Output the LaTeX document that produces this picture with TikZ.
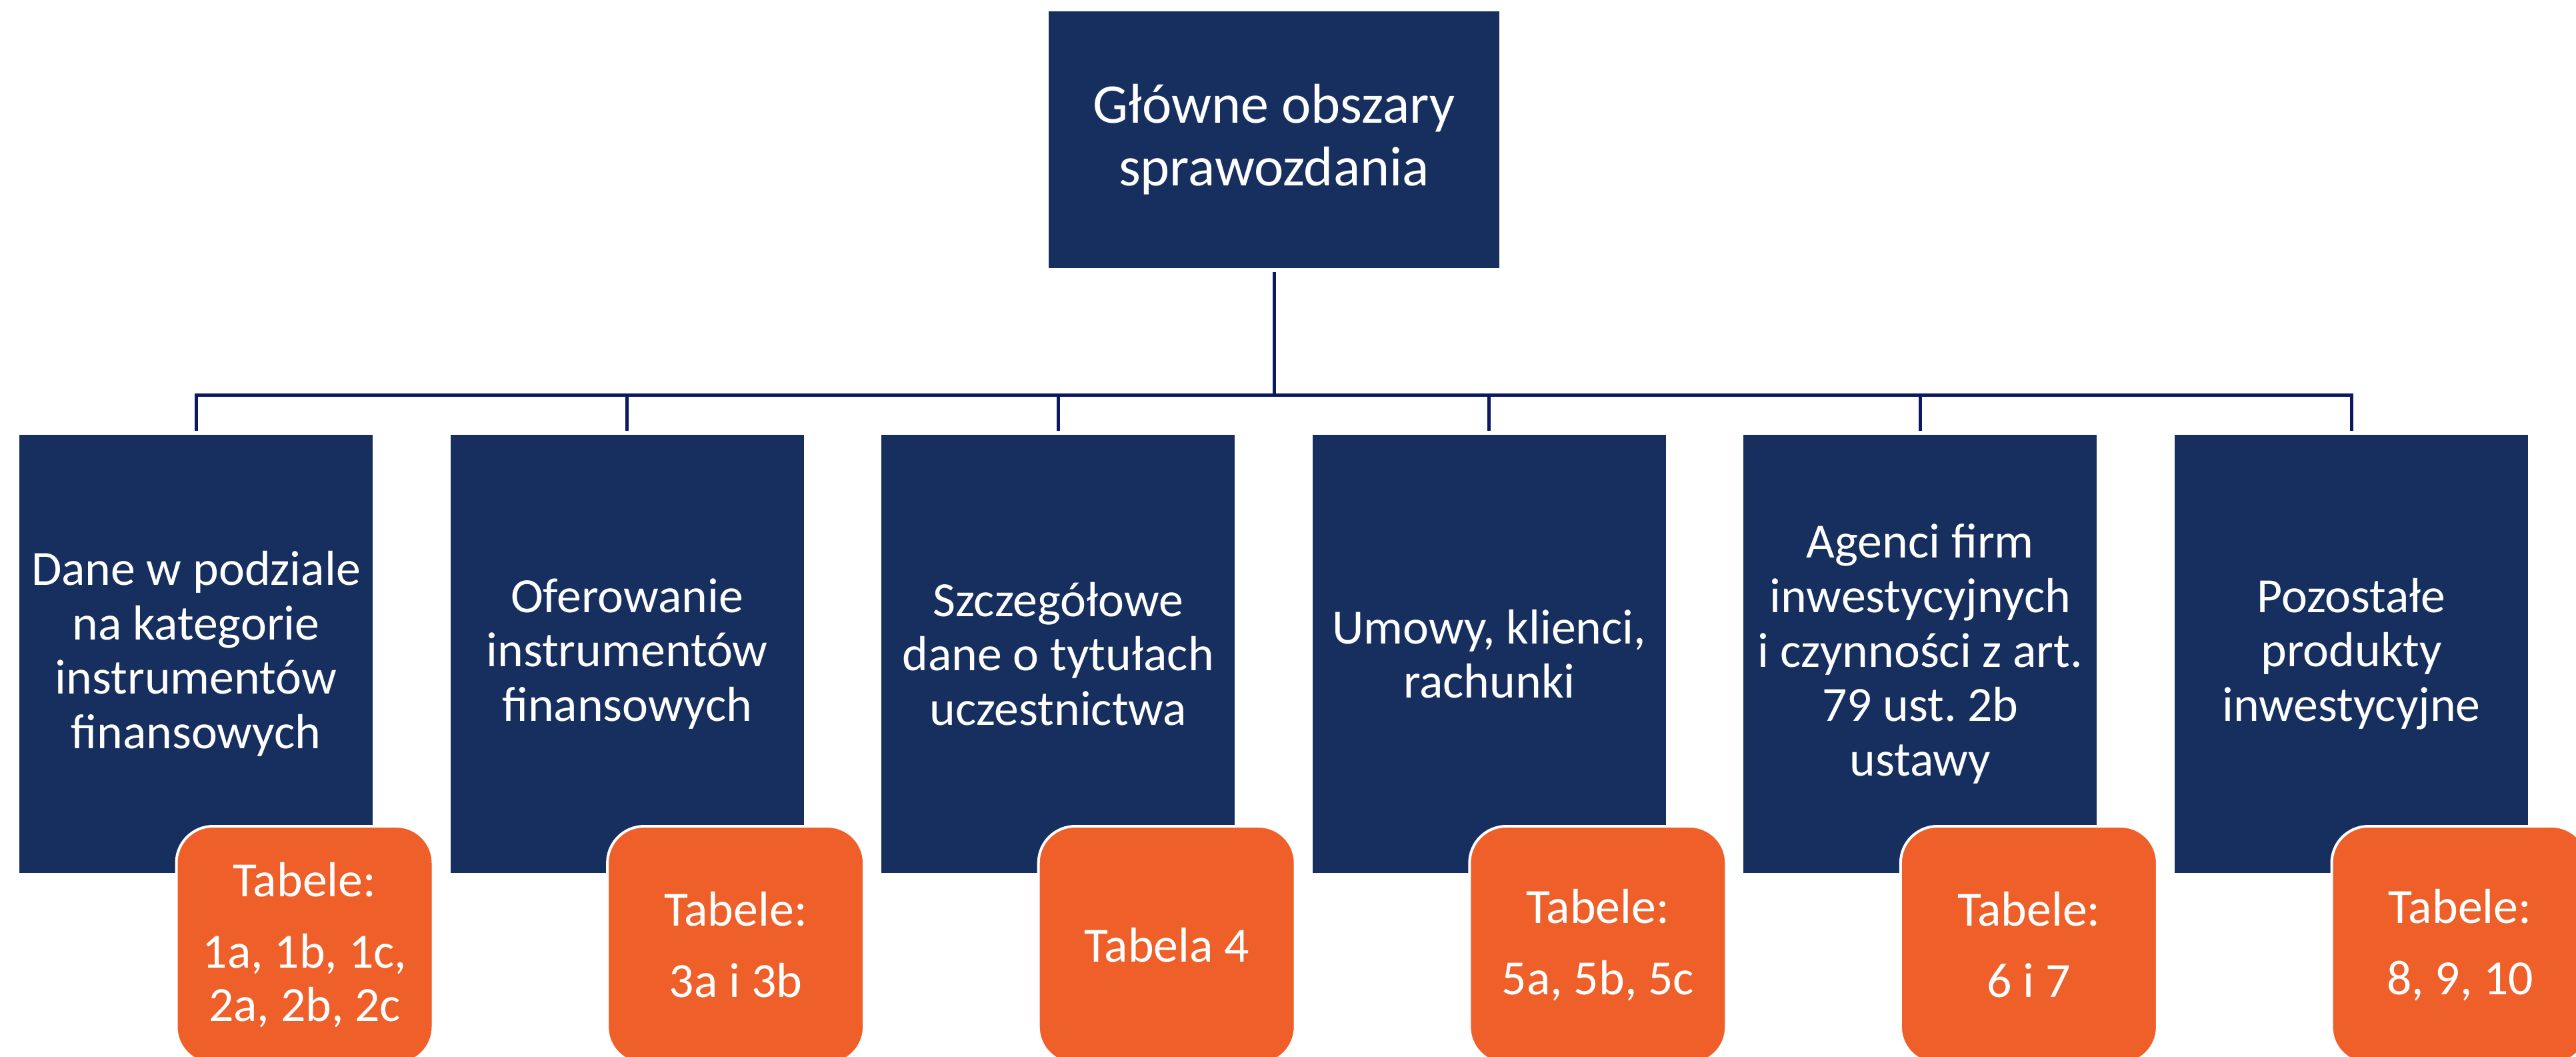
\documentclass[tikz,border=0pt]{standalone}
\usepackage{fontspec}
\setmainfont{Carlito}
\frenchspacing
\definecolor{boxNavy}{HTML}{172F5F}
\definecolor{lineNavy}{HTML}{0B1862}
\definecolor{tabOrange}{HTML}{EE5F29}

\begin{document}
\begin{tikzpicture}[
	areaBox/.style={rectangle, fill=boxNavy, text=white, align=center, minimum width=5.3cm, minimum height=6.57cm, outer sep=0.06cm, font=\fontsize{21}{23.2}\selectfont},
	tableTag/.style={rectangle, rounded corners=0.55cm, draw=white, line width=0.04cm, fill=tabOrange, text=white, align=center, minimum width=3.85cm, minimum height=3.56cm, font=\fontsize{21}{22.5}\selectfont},
	link/.style={draw=lineNavy, line width=0.05cm}]
	\clip (0,0) rectangle (38.64,15.84);
	\node[rectangle, fill=boxNavy, text=white, align=center, minimum width=6.76cm, minimum height=3.85cm, outer sep=0.06cm, font=\fontsize{23.9}{26.8}\selectfont](main) at (19.11,13.745){Główne obszary\\sprawozdania};
	\coordinate(bus) at (19.11,9.91);
	\node[areaBox](area1) at (2.94,6.035){Dane w podziale\\na kategorie\\instrumentów\\finansowych};
	\node[areaBox](area2) at (9.406,6.035){Oferowanie\\instrumentów\\finansowych};
	\node[areaBox](area3) at (15.872,6.035){Szczegółowe\\dane o tytułach\\uczestnictwa};
	\node[areaBox](area4) at (22.338,6.035){Umowy, klienci,\\rachunki};
	\node[areaBox](area5) at (28.804,6.035){Agenci firm\\inwestycyjnych\\i czynności z art.\\79 ust. 2b\\ustawy};
	\node[areaBox](area6) at (35.27,6.035){Pozostałe\\produkty\\inwestycyjne};
	\foreach \i in {1,...,6}
		\draw[link](main.south) -- (main.south |- bus) -| (area\i.north);
	\node[tableTag](tab1) at (4.57,1.67){Tabele:\\[8pt]1a, 1b, 1c,\\2a, 2b, 2c};
	\node[tableTag](tab2) at (11.036,1.67){Tabele:\\[8pt]3a i 3b};
	\node[tableTag](tab3) at (17.502,1.67){Tabela 4};
	\node[tableTag](tab4) at (23.968,1.67){Tabele:\\[8pt]5a, 5b, 5c};
	\node[tableTag](tab5) at (30.434,1.67){Tabele:\\[8pt]6 i 7};
	\node[tableTag](tab6) at (36.90,1.67){Tabele:\\[8pt]8, 9, 10};
\end{tikzpicture}
\end{document}
